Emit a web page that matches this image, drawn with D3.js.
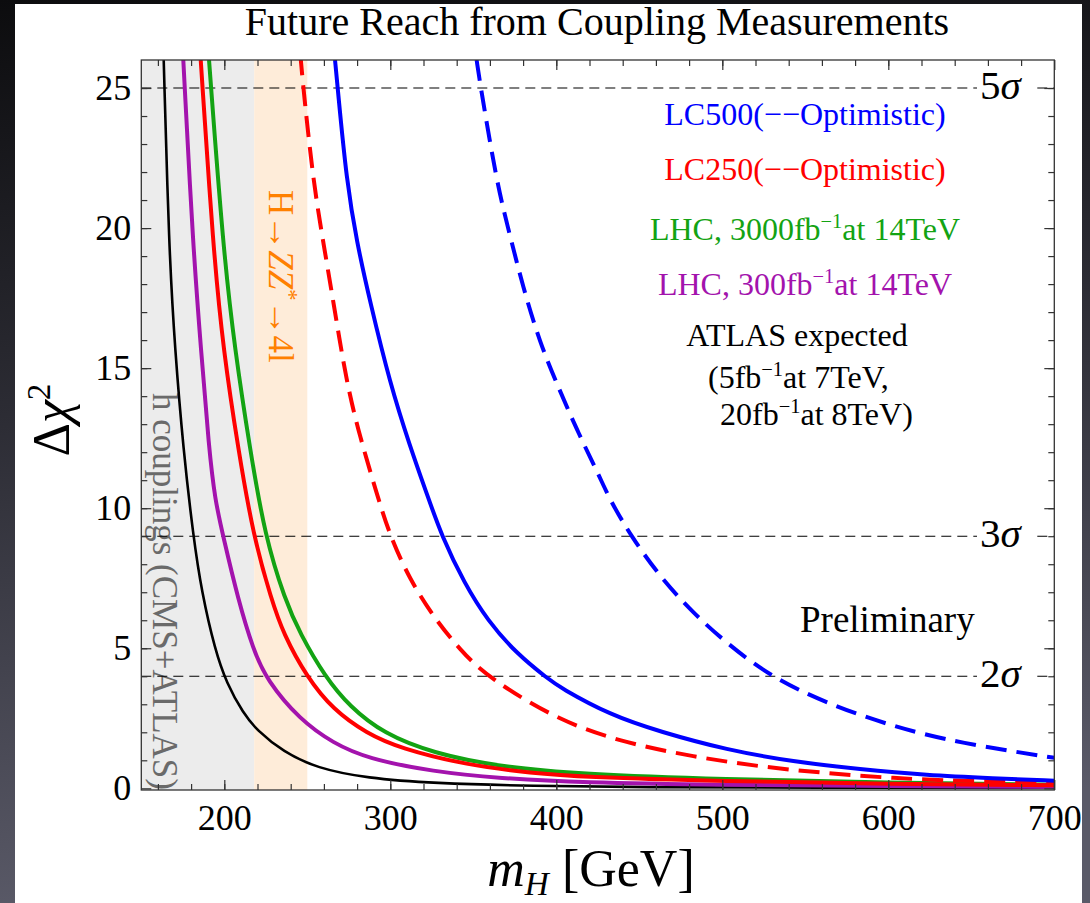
<!DOCTYPE html>
<html>
<head>
<meta charset="utf-8">
<script src="https://cdn.jsdelivr.net/npm/d3@7/dist/d3.min.js"></script>
<style>
  html, body { margin: 0; padding: 0; overflow: hidden; }
  svg { display: block; font-family: "Liberation Serif", "Times New Roman", serif; }
</style>
</head>
<body>
<svg></svg>
<script>
// axis values
const massTicks = [200, 300, 400, 500, 600, 700];
const chiTicks = [0, 5, 10, 15, 20, 25];
const sigmaLevels = [25, 9, 4];
const sigmaNames = ['5', '3', '2'];
const couplingBand = [150, 218];
const zzBand = [218, 250];

// curves (m_H in GeV, delta chi^2)
const atlasMass = [163.5, 166.7, 170.3, 175.3, 181.3, 186.4, 194.4, 201.4, 211.4, 219.5, 235.5, 255.7, 285.8, 325.9, 386, 450, 550, 700];
const atlasChi2 = [26, 19.2, 15.65, 12.1, 9.0, 7.0, 4.94, 3.75, 2.68, 2.08, 1.3, 0.72, 0.36, 0.18, 0.08, 0.04, 0.02, 0.01];

const lhc300Mass = [175.3, 181.3, 186.0, 190.8, 194.4, 199.3, 208.4, 217.5, 225.5, 245.6, 265.7, 285.8, 325.9, 366.1, 414.3, 500, 600, 700];
const lhc300Chi2 = [26, 19.2, 15.65, 12.1, 10.3, 9.0, 6.72, 4.94, 3.87, 2.44, 1.61, 1.07, 0.59, 0.36, 0.2, 0.12, 0.08, 0.05];

const lhc3000Mass = [190.8, 199.4, 206.4, 215.5, 224.5, 236.6, 245.6, 260.7, 275.7, 295.8, 325.9, 366.1, 414.3, 500, 600, 700];
const lhc3000Chi2 = [26, 19.2, 15.65, 12.1, 9.0, 6.72, 5.53, 3.98, 2.91, 1.96, 1.25, 0.77, 0.51, 0.32, 0.2, 0.13];

const lc250Mass = [185.8, 193.4, 199.4, 208.4, 217.5, 228.5, 235.5, 249.6, 265.7, 285.8, 305.8, 346, 386.1, 414.3, 500, 600, 700];
const lc250Chi2 = [26, 19.2, 15.65, 12.1, 9.0, 6.72, 5.53, 3.98, 2.8, 1.96, 1.43, 0.83, 0.54, 0.41, 0.25, 0.16, 0.11];

const lc250OptMass = [245.8, 247.6, 253.6, 259.6, 265.7, 273.7, 281.7, 291.8, 299.8, 311.9, 325.9, 342, 358.3, 402.3, 442.4, 482.5, 522.7, 562.9, 603, 643.2, 700];
const lc250OptChi2 = [26.2, 25, 21.66, 19.5, 17.37, 14.46, 12.55, 10.53, 9.0, 7.44, 6.13, 4.94, 3.98, 2.38, 1.61, 1.13, 0.77, 0.54, 0.36, 0.26, 0.21];

const lc500Mass = [266.7, 268.3, 273.7, 279.8, 287.8, 299.8, 311.9, 321.9, 331, 344.7, 358.7, 376.2, 395.2, 402.2, 432.3, 462.5, 502.7, 542.8, 583, 623.1, 663.3, 700];
const lc500Chi2 = [26, 25, 21.66, 19.5, 17.37, 14.46, 12.2, 10.53, 9.0, 7.31, 5.98, 4.8, 3.9, 3.6, 2.62, 2.02, 1.37, 0.95, 0.68, 0.47, 0.36, 0.27];

const lc500OptMass = [352, 354.5, 364.1, 370.1, 380.1, 390.2, 400.2, 412.3, 426.3, 432.3, 445, 462.5, 482.5, 502.7, 528.7, 562.9, 603, 643.2, 700];
const lc500OptChi2 = [26, 25, 21.66, 20.2, 17.85, 15.9, 14.46, 12.8, 11.1, 10.3, 9.0, 7.55, 6.25, 5.18, 4.0, 3.03, 2.2, 1.61, 1.09];

const width = 1090, height = 903;
const serif = '"Liberation Serif", "Times New Roman", serif';

const svg = d3.select('svg')
    .attr('width', width)
    .attr('height', height);

const defs = svg.append('defs');
const grad = defs.append('linearGradient')
    .attr('id', 'bg')
    .attr('x1', 0).attr('y1', 0).attr('x2', 0.15).attr('y2', 1);
grad.append('stop').attr('offset', '0%').attr('stop-color', '#0c0c0e');
grad.append('stop').attr('offset', '45%').attr('stop-color', '#2c2c34');
grad.append('stop').attr('offset', '100%').attr('stop-color', '#5a5a68');

svg.append('rect')
    .attr('width', width)
    .attr('height', height)
    .attr('fill', 'url(#bg)');

// white slide panel
svg.append('rect')
    .attr('x', 15)
    .attr('y', 4)
    .attr('width', 1067)
    .attr('height', height)
    .attr('fill', '#fff');

const x = d3.scaleLinear().domain([150, 700]).range([141.3, 1054.3]);
const y = d3.scaleLinear().domain([-0.06, 26]).range([790, 60]);

defs.append('clipPath')
    .attr('id', 'plot')
  .append('rect')
    .attr('x', x(150))
    .attr('y', y(26))
    .attr('width', x(700) - x(150))
    .attr('height', y(-0.06) - y(26));

const plot = svg.append('g').attr('clip-path', 'url(#plot)');

// shaded regions
plot.append('rect')
    .attr('x', x(couplingBand[0]))
    .attr('y', y(26))
    .attr('width', x(couplingBand[1]) - x(couplingBand[0]))
    .attr('height', y(-0.06) - y(26))
    .attr('fill', '#ececec');

plot.append('rect')
    .attr('x', x(zzBand[0]))
    .attr('y', y(26))
    .attr('width', x(zzBand[1]) - x(zzBand[0]))
    .attr('height', y(-0.06) - y(26))
    .attr('fill', '#feecd9');

// rich text helper: parts = [text, kind]
function rich(text, parts, size) {
  let shift = 0;
  parts.forEach(([s, kind]) => {
    const t = text.append('tspan').text(s);
    let target = 0;
    if (kind === 'sup' || kind === 'supi') target = -0.36 * size;
    if (kind === 'subi') target = 0.17 * size;
    if (target !== shift) t.attr('dy', target - shift);
    shift = target;
    if (kind !== 'n' && kind !== 'i') t.attr('font-size', size * 0.64);
    if (kind === 'i' || kind === 'subi' || kind === 'supi') t.attr('font-style', 'italic');
  });
}

// vertical labels in the bands
plot.append('text')
    .attr('transform', 'translate(153, 393) rotate(90)')
    .attr('font-family', serif)
    .attr('font-size', 35)
    .attr('fill', '#6a6a6a')
    .text('h couplings (CMS+ATLAS)');

const zzText = plot.append('text')
    .attr('transform', 'translate(269, 190) rotate(90)')
    .attr('font-family', serif)
    .attr('font-size', 35)
    .attr('fill', '#ff8000');
rich(zzText, [['H→', 'n'], ['ZZ', 'i'], ['*', 'sup'], ['→4l', 'n']], 35);

// sigma lines
sigmaLevels.forEach((lv, i) => {
  plot.append('line')
      .attr('x1', x(150)).attr('x2', x(700))
      .attr('y1', y(lv)).attr('y2', y(lv))
      .attr('stroke', '#000')
      .attr('stroke-width', 1.1)
      .attr('stroke-dasharray', '10,6');
  plot.append('rect')
      .attr('x', 977).attr('y', y(lv) - 3)
      .attr('width', 60).attr('height', 6)
      .attr('fill', '#fff');
  const t = plot.append('text')
      .attr('x', 980)
      .attr('y', y(lv) + 11)
      .attr('font-family', serif)
      .attr('font-size', 41)
      .attr('fill', '#000');
  rich(t, [[sigmaNames[i], 'n'], ['σ', 'i']], 41);
});

// curves
const line = d3.line()
    .x(d => x(d[0]))
    .y(d => y(d[1]))
    .curve(d3.curveBasis);

const series = [
  { m: atlasMass, v: atlasChi2, color: '#000000', w: 2.6, dash: null },
  { m: lhc300Mass, v: lhc300Chi2, color: '#a313ad', w: 4, dash: null },
  { m: lhc3000Mass, v: lhc3000Chi2, color: '#13a313', w: 4, dash: null },
  { m: lc250Mass, v: lc250Chi2, color: '#ff0000', w: 4, dash: null },
  { m: lc250OptMass, v: lc250OptChi2, color: '#ff0000', w: 4, dash: '21,10' },
  { m: lc500Mass, v: lc500Chi2, color: '#0000ff', w: 4, dash: null },
  { m: lc500OptMass, v: lc500OptChi2, color: '#0000ff', w: 4, dash: '21,10' }
];

series.forEach(s => {
  plot.append('path')
      .datum(s.m.map((m, i) => [m, s.v[i]]))
      .attr('d', line)
      .attr('fill', 'none')
      .attr('stroke', s.color)
      .attr('stroke-width', s.w)
      .attr('stroke-dasharray', s.dash);
});

// frame and ticks
svg.append('rect')
    .attr('x', x(150))
    .attr('y', y(26))
    .attr('width', x(700) - x(150))
    .attr('height', y(-0.06) - y(26))
    .attr('fill', 'none')
    .attr('stroke', '#333')
    .attr('stroke-width', 1.3);

function ticks(axis, tx, ty, values, size, pad, labels) {
  const g = svg.append('g')
      .attr('transform', `translate(${tx},${ty})`)
      .call(axis.tickValues(values).tickSize(-size).tickPadding(pad)
          .tickFormat(labels ? d3.format('d') : ''));
  g.select('.domain').remove();
  g.attr('font-family', serif).attr('font-size', 36);
  g.selectAll('line').attr('stroke', '#333').attr('stroke-width', 1.2);
  g.selectAll('text').attr('fill', '#000');
}

const massMinor = d3.range(160, 700, 20);
const chiMinor = d3.range(1, 26, 1);

ticks(d3.axisBottom(x), 0, y(-0.06), massMinor, 6, 14, false);
ticks(d3.axisBottom(x), 0, y(-0.06), massTicks, 10, 14, true);
ticks(d3.axisTop(x), 0, y(26), massMinor, 6, 0, false);
ticks(d3.axisTop(x), 0, y(26), massTicks, 10, 0, false);
ticks(d3.axisLeft(y), x(150), 0, chiMinor, 6, 10, false);
ticks(d3.axisLeft(y), x(150), 0, chiTicks, 10, 10, true);
ticks(d3.axisRight(y), x(700), 0, chiMinor, 6, 0, false);
ticks(d3.axisRight(y), x(700), 0, chiTicks, 10, 0, false);

// title
svg.append('text')
    .attr('x', 597)
    .attr('y', 35)
    .attr('text-anchor', 'middle')
    .attr('font-family', serif)
    .attr('font-size', 40)
    .attr('fill', '#000')
    .text('Future Reach from Coupling Measurements');

// axis titles
const yTitle = svg.append('text')
    .attr('transform', 'translate(69, 420) rotate(-90)')
    .attr('text-anchor', 'middle')
    .attr('font-family', serif)
    .attr('font-size', 52)
    .attr('fill', '#000');
rich(yTitle, [['Δ', 'n'], ['χ', 'i'], ['2', 'sup']], 52);

const xTitle = svg.append('text')
    .attr('x', 591)
    .attr('y', 886)
    .attr('text-anchor', 'middle')
    .attr('font-family', serif)
    .attr('font-size', 52)
    .attr('fill', '#000');
rich(xTitle, [['m', 'i'], ['H', 'subi'], [' [GeV]', 'n']], 52);

// legend
const legend = [
  { parts: [['LC500(−−Optimistic)', 'n']], color: '#0000ff', ty: 125 },
  { parts: [['LC250(−−Optimistic)', 'n']], color: '#ff0000', ty: 180 },
  { parts: [['LHC, 3000fb', 'n'], ['−1', 'sup'], ['at 14TeV', 'n']], color: '#13a313', ty: 240 },
  { parts: [['LHC, 300fb', 'n'], ['−1', 'sup'], ['at 14TeV', 'n']], color: '#a313ad', ty: 295 }
];
legend.forEach(d => {
  const t = svg.append('text')
      .attr('x', 805)
      .attr('y', d.ty)
      .attr('text-anchor', 'middle')
      .attr('font-family', serif)
      .attr('font-size', 32)
      .attr('fill', d.color);
  rich(t, d.parts, 32);
});

svg.append('text')
    .attr('x', 797).attr('y', 346)
    .attr('text-anchor', 'middle')
    .attr('font-family', serif).attr('font-size', 32)
    .text('ATLAS expected');

const atl2 = svg.append('text')
    .attr('x', 708).attr('y', 388)
    .attr('font-family', serif).attr('font-size', 32);
rich(atl2, [['(5fb', 'n'], ['−1', 'sup'], ['at 7TeV,', 'n']], 32);

const atl3 = svg.append('text')
    .attr('x', 720).attr('y', 425)
    .attr('font-family', serif).attr('font-size', 32);
rich(atl3, [['20fb', 'n'], ['−1', 'sup'], ['at 8TeV)', 'n']], 32);

svg.append('text')
    .attr('x', 800).attr('y', 632)
    .attr('font-family', serif).attr('font-size', 37)
    .text('Preliminary');
</script>
</body>
</html>
